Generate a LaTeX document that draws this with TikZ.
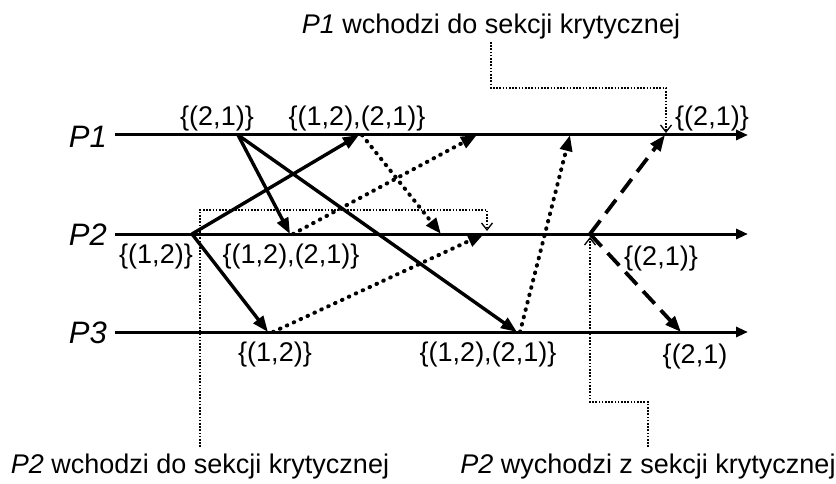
\documentclass[tikz,border=0pt]{standalone}
\usepackage{fontspec}
\setmainfont{Liberation Sans}
\usetikzlibrary{arrows.meta}
\begin{document}
\begin{tikzpicture}[x=1pt,y=-1pt,
  txt/.style={font=\fontsize{27}{32}\selectfont, inner sep=0pt},
  plabel/.style={font=\fontsize{31}{37}\selectfont\itshape, inner sep=0pt},
  timeline/.style={line width=3pt, -{Triangle[length=12pt,width=10pt]}},
  msg/.style={line width=3.4pt, -{Triangle[length=16pt,width=12pt]}},
  dotmsg/.style={msg, line width=4pt, line cap=round, dash pattern=on 0.6pt off 7pt},
  dashmsg/.style={msg, line width=3.8pt, dash pattern=on 17pt off 9pt},
  note/.style={line width=1.3pt, dash pattern=on 1.6pt off 1.6pt,
    -{Straight Barb[length=7pt,width=11pt,line width=1.3pt]}}]
\useasboundingbox (0,0) rectangle (836,484);

% process labels and time lines
\node[plabel, anchor=east] (p1) at (107,137) {P1};
\node[plabel, anchor=east] (p2) at (107,235) {P2};
\node[plabel, anchor=east] (p3) at (107,333) {P3};
\coordinate (l1s) at (115,135); \coordinate (l1e) at (748,135);
\coordinate (l2s) at (115,234); \coordinate (l2e) at (748,234);
\coordinate (l3s) at (115,332); \coordinate (l3e) at (748,332);
\draw[timeline] (l1s) -- (l1e);
\draw[timeline] (l2s) -- (l2e);
\draw[timeline] (l3s) -- (l3e);

% events
\coordinate (a1) at (238,135);  % P1 sends request
\coordinate (a2) at (359,135);  % P1 receives from P2
\coordinate (a2s) at (362,135);
\coordinate (a3) at (477,135);
\coordinate (a4) at (570,135);
\coordinate (a5) at (665,135);
\coordinate (b1) at (192,234);  % P2 sends request
\coordinate (b2) at (290,234);
\coordinate (b2s) at (293,234);
\coordinate (b3) at (441,234);
\coordinate (b4) at (484,234);
\coordinate (b5) at (590,234);  % P2 leaves
\coordinate (c1) at (268,332);
\coordinate (c1s) at (273,332);
\coordinate (c2) at (517,332);
\coordinate (c2s) at (520,332);
\coordinate (c3) at (681,332);

% requests
\draw[msg] (a1) -- (b2);
\draw[msg] (a1) -- (c2);
\draw[msg] (b1) -- (a2);
\draw[msg] (b1) -- (c1);
% acknowledgements
\draw[dotmsg] (a2s) -- (b3);
\draw[dotmsg] (b2s) -- (a3);
\draw[dotmsg] (c1s) -- (b4);
\draw[dotmsg] (c2s) -- (a4);
% release
\draw[dashmsg] (b5) -- (a5);
\draw[dashmsg] (b5) -- (c3);

% queue contents
\node[txt] (q1) at (217,119) {\{(2,1)\}};
\node[txt] (q2) at (357,119) {\{(1,2),(2,1)\}};
\node[txt] (q3) at (712,119) {\{(2,1)\}};
\node[txt] (q4) at (156,257) {\{(1,2)\}};
\node[txt] (q5) at (291,257) {\{(1,2),(2,1)\}};
\node[txt] (q6) at (661,259) {\{(2,1)\}};
\node[txt] (q7) at (275,355) {\{(1,2)\}};
\node[txt] (q8) at (488,355) {\{(1,2),(2,1)\}};
\node[txt] (q9) at (695,357) {\{(2,1)};

% annotations
\node[txt] (t1) at (491,27) {\textit{P1} wchodzi do sekcji krytycznej};
\node[txt] (t2) at (200,467) {\textit{P2} wchodzi do sekcji krytycznej};
\node[txt] (t3) at (648,467) {\textit{P2} wychodzi z sekcji krytycznej};
\coordinate (n1) at (491,42);
\coordinate (n2) at (666,133);
\coordinate (n3) at (200,447);
\coordinate (n4) at (487,231);
\coordinate (n5) at (648,447);
\coordinate (n6) at (590,237);
\draw[note] (n1) -- (491,88) -| (n2);
\draw[note] (n3) -- (200,210) -| (n4);
\draw[note] (n5) -- (648,402) -| (n6);
\end{tikzpicture}
\end{document}
